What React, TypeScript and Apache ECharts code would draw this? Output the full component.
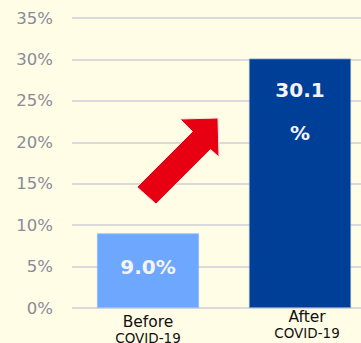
import React, { useEffect, useRef } from "react";
import * as echarts from "echarts";

const categories = ["Before", "After"];
const values = [9.0, 30.1];
const valueLabels = ["9.0%", "30.1\n%"];
const barColors = ["#6EA8FE", "#003F97"];
const yTicks = { min: 0, max: 35, interval: 5 };

export default function App() {
  const ref = useRef<HTMLDivElement>(null);
  useEffect(() => {
    const chart = echarts.init(ref.current!, null, { renderer: "svg" });
    chart.setOption({
      animation: false,
      backgroundColor: "#FFFDE6",
      grid: { left: 72, width: 304, top: 18, bottom: 35, containLabel: false, outerBoundsMode: "none" },
      xAxis: {
        type: "category",
        data: categories.map((c, i) => ({
          value: c,
          textStyle: i === 0 ? { padding: [5, 0, 0, 0] } : { padding: [0, 0, 0, 14] },
        })),
        axisLine: { show: false },
        axisTick: { show: false },
        axisLabel: {
          margin: 2,
          interval: 0,
          formatter: (v: string) => `{a|${v}}\n{b|COVID-19}`,
          rich: {
            a: { fontFamily: "DejaVu Sans", fontSize: 15.5, color: "#111", lineHeight: 14 },
            b: { fontFamily: "DejaVu Sans", fontSize: 13.5, color: "#111", lineHeight: 18 },
          },
        },
      },
      yAxis: {
        type: "value",
        min: yTicks.min,
        max: yTicks.max,
        interval: yTicks.interval,
        axisLine: { show: false },
        axisTick: { show: false },
        axisLabel: {
          formatter: "{value}%",
          margin: 19,
          fontFamily: "DejaVu Sans",
          fontSize: 16.5,
          color: "#8A8A9A",
        },
        splitLine: { lineStyle: { color: "#DADADA", width: 2 } },
      },
      series: [
        {
          type: "bar",
          barWidth: 102,
          data: values.map((v, i) => ({
            value: v,
            itemStyle: { color: barColors[i], borderColor: i === 1 ? "#6F8FC4" : "#8DBBFF", borderWidth: 0.8 },
            label: {
              show: true,
              formatter: valueLabels[i],
              position: i === 0 ? "inside" : "insideTop",
              distance: 10,
              color: "#F4F4F4",
              fontFamily: "DejaVu Sans",
              fontWeight: "bold",
              fontSize: 20,
              lineHeight: 43,
              offset: i === 0 ? [0, -4] : [0, 0],
            },
          })),
        },
      ],
      graphic: [
        {
          type: "polygon",
          shape: {
            points: [
              [137, 187],
              [192.5, 131.5],
              [180, 119],
              [218, 118],
              [219, 157],
              [210.5, 149.5],
              [156, 204],
            ],
          },
          style: { fill: "#E60012", stroke: "#FFE3E3", lineWidth: 1 },
          z: 100,
        },
      ],
    });
    return () => chart.dispose();
  }, []);
  return (
    <div
      ref={ref}
      style={{ position: "absolute", left: 0, top: 0, width: 361, height: 343 }}
    />
  );
}
